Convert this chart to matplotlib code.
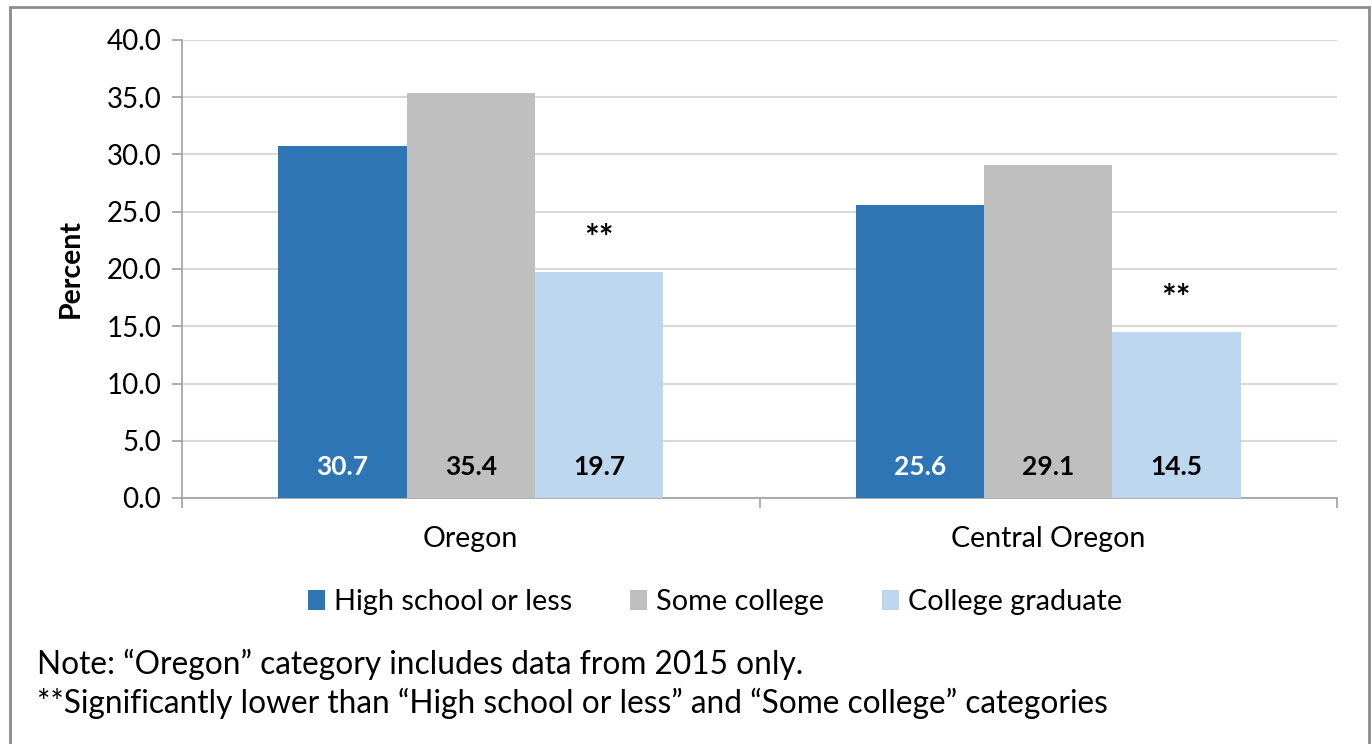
import matplotlib
matplotlib.use("Agg")
import matplotlib.pyplot as plt
import numpy as np
from matplotlib.patches import Rectangle

regions = ["Oregon", "Central Oregon"]
series = ["High school or less", "Some college", "College graduate"]
high_school = [30.7, 25.6]
some_college = [35.4, 29.1]
college_grad = [19.7, 14.5]
values = [high_school, some_college, college_grad]
colors = ["#2E75B6", "#BFBFBF", "#BDD7EE"]
label_colors = ["white", "black", "black"]
yticks = [0, 5, 10, 15, 20, 25, 30, 35, 40]
notes = ["Note: \u201cOregon\u201d category includes data from 2015 only.",
         "**Significantly lower than \u201cHigh school or less\u201d and \u201cSome college\u201d categories"]

plt.rcParams['font.family'] = ['Lato', 'DejaVu Sans']

W, H = 1372, 744
fig = plt.figure(figsize=(W/100, H/100), dpi=100)
ax = fig.add_axes([182/W, 1-498/H, (1337-182)/W, (498-40)/H])

x = np.arange(len(regions))
bw = 0.222
for i, (vals, c) in enumerate(zip(values, colors)):
    pos = x + (i-1)*bw
    ax.bar(pos, vals, width=bw, color=c, label=series[i], zorder=3)
    for p, v in zip(pos, vals):
        ax.text(p, 2.7, f"{v:.1f}", ha="center", va="center", fontsize=19,
                fontweight="bold", color=label_colors[i], zorder=4)
# significance markers
for p, v in zip(x + bw, college_grad):
    ax.text(p, v + 2.9, "**", ha="center", va="center", fontsize=25,
            fontweight="bold", color="black")

ax.set_ylim(0, 40)
ax.set_xlim(-0.5, 1.5)
ax.set_yticks(yticks)
ax.set_yticklabels([f"{t:.1f}" for t in yticks], fontsize=20)
ax.yaxis.grid(True, color="#d9d9d9", linewidth=1.5, zorder=0)
ax.set_axisbelow(True)
ax.set_xticks(x)
ax.set_xticklabels(regions, fontsize=20.5)
ax.set_xticks([-0.5, 0.5, 1.5], minor=True)
ax.tick_params(axis="x", which="major", length=0, pad=20)
ax.tick_params(axis="x", which="minor", length=7, color="#a0a0a0", width=1.2)
ax.tick_params(axis="y", length=7, color="#a0a0a0", width=1.2, pad=8)
for s in ["top", "right"]:
    ax.spines[s].set_visible(False)
for s in ["left", "bottom"]:
    ax.spines[s].set_color("#a0a0a0")
    ax.spines[s].set_linewidth(1.2)
ax.set_ylabel("Percent", fontsize=20.5, fontweight="bold", labelpad=16)

leg = fig.legend(loc="center", bbox_to_anchor=(715/W, 1-602/H), ncol=3, frameon=False,
                 fontsize=20.8, handlelength=0.6, handleheight=0.7, handletextpad=0.3,
                 columnspacing=2.0)

fig.text(37/W, 1-664/H, notes[0], fontsize=22.8, va="center", ha="left")
fig.text(37/W, 1-703/H, notes[1], fontsize=22.8, va="center", ha="left")

fig.patches.append(Rectangle((10/W, -0.01), (1369-10)/W, 1-7/H + 0.01, transform=fig.transFigure,
                             fill=False, edgecolor="#8c8c8c", linewidth=2))

fig.savefig("out.png", dpi=100)
